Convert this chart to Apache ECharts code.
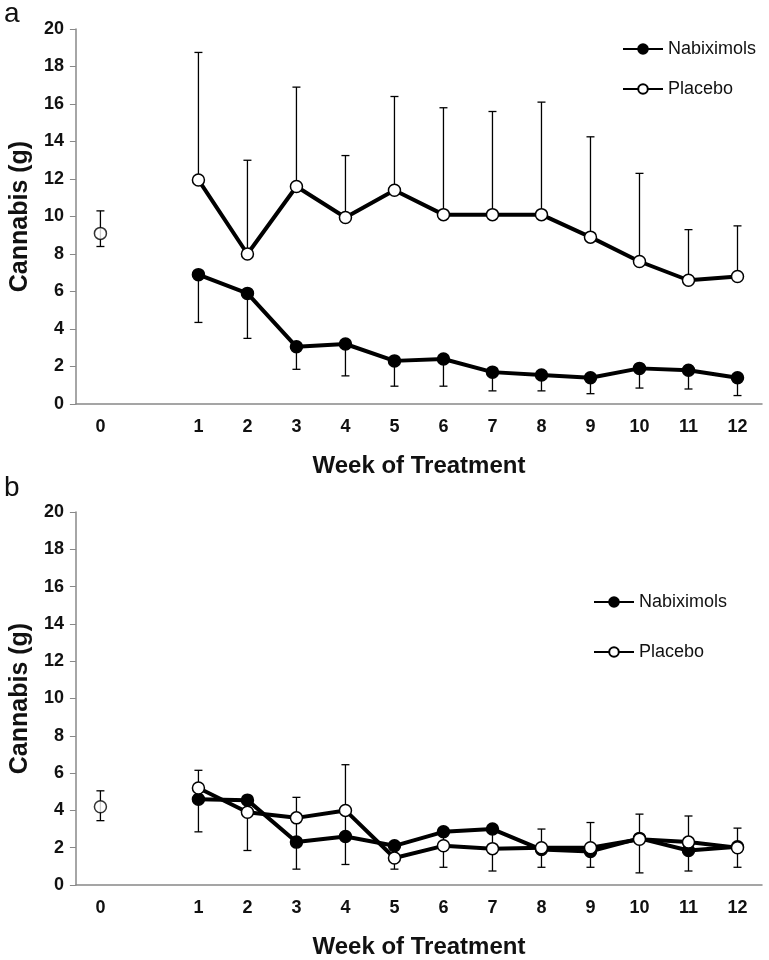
<!DOCTYPE html>
<html><head><meta charset="utf-8">
<script src="https://cdn.jsdelivr.net/npm/echarts@6/dist/echarts.min.js"></script>
<style>body{margin:0;background:#fff}#c{width:769px;height:960px}</style></head>
<body><div id="c"></div>
<script>
const categories = ['0','','1','2','3','4','5','6','7','8','9','10','11','12'];
const yTicks = [0,2,4,6,8,10,12,14,16,18,20];
// Panel a
const aBaseline = [9.1, 8.4, 10.3];
const aNab = ['-','-',6.9,5.9,3.05,3.2,2.3,2.4,1.7,1.55,1.4,1.9,1.8,1.4];
const aNabLow = ['-','-',4.35,3.5,1.85,1.5,0.95,0.95,0.7,0.7,0.55,0.85,0.8,0.45];
const aPla = ['-','-',11.95,8.0,11.6,9.95,11.4,10.1,10.1,10.1,8.9,7.6,6.6,6.8];
const aPlaHigh = ['-','-',18.75,13.0,16.9,13.25,16.4,15.8,15.6,16.1,14.25,12.3,9.3,9.5];
// Panel b
const bBaseline = [4.2, 3.45, 5.05];
const bNab = ['-','-',4.6,4.55,2.3,2.6,2.1,2.85,3.0,1.9,1.8,2.5,1.85,2.05];
const bPla = ['-','-',5.2,3.9,3.6,4.0,1.45,2.1,1.95,2.0,2.0,2.45,2.3,2.0];
const bErrLow = ['-','-',2.85,1.85,0.85,1.1,0.85,0.95,0.75,0.95,0.95,0.65,0.75,0.95];
const bErrHigh = ['-','-',6.15,4.8,4.7,6.45,2.1,2.85,3.0,3.0,3.35,3.8,3.7,3.05];

const font = '"Liberation Sans Narrow","Liberation Sans",Arial,sans-serif';
const grids = [{left:62,width:700,top:29,height:375},{left:62,width:700,top:512,height:374}];

function errData(vals, lows, highs){
  const out=[];
  for(let i=0;i<vals.length;i++){ if(lows[i]!=='-') out.push([i, lows[i], highs[i]]); }
  return out;
}
function errSeries(idx, data){
  return {type:'custom', xAxisIndex:idx, yAxisIndex:idx, z:1, silent:true, data:data,
    renderItem:function(params, api){
      const x=api.value(0);
      const p1=api.coord([x, api.value(1)]), p2=api.coord([x, api.value(2)]);
      const w=4, st={stroke:'#000', lineWidth:1.3};
      return {type:'group', children:[
        {type:'line', shape:{x1:p1[0],y1:p1[1],x2:p2[0],y2:p2[1]}, style:st},
        {type:'line', shape:{x1:p1[0]-w,y1:p1[1],x2:p1[0]+w,y2:p1[1]}, style:st},
        {type:'line', shape:{x1:p2[0]-w,y1:p2[1],x2:p2[0]+w,y2:p2[1]}, style:st}
      ]};
    }};
}
function lineSeries(idx, name, data, filled){
  return {type:'line', name:name, xAxisIndex:idx, yAxisIndex:idx, data:data, z:3,
    symbol:'circle', symbolSize:12, lineStyle:{color:'#000', width:4},
    itemStyle:{color: filled?'#000':'#fff', borderColor:'#000', borderWidth:1.5}};
}
const aNabHigh = aNab, aPlaLow = aPla;
const series = [
  errSeries(0, errData(aNab, aNabLow, aNabHigh)),
  errSeries(0, errData(aPla, aPlaLow, aPlaHigh)),
  errSeries(0, [[0, aBaseline[1], aBaseline[2]]]),
  lineSeries(0,'Nabiximols',aNab,true),
  lineSeries(0,'Placebo',aPla,false),
  {type:'scatter', xAxisIndex:0, yAxisIndex:0, z:3, symbolSize:12, data:[[0,aBaseline[0]]], itemStyle:{color:'#fff',borderColor:'#000',borderWidth:1.5}},
  errSeries(1, errData(bNab, bErrLow, bErrHigh)),
  errSeries(1, [[0, bBaseline[1], bBaseline[2]]]),
  {...lineSeries(1,'Nabiximols',bNab,true), name:'Nabiximols '},
  {...lineSeries(1,'Placebo',bPla,false), name:'Placebo '},
  {type:'scatter', xAxisIndex:1, yAxisIndex:1, z:3, symbolSize:12, data:[[0,bBaseline[0]]], itemStyle:{color:'#fff',borderColor:'#000',borderWidth:1.5}}
];
function xAxis(i){return {type:'category', gridIndex:i, data:categories, boundaryGap:true,
  axisLine:{lineStyle:{color:'#888',width:1.5}}, axisTick:{interval:0, length:6, lineStyle:{color:'#888'}},
  axisLabel:{interval:0, color:'#111', fontSize:18, fontWeight:'bold', fontFamily:font, margin:14},
  name:'Week of Treatment', nameLocation:'middle', nameGap:50,
  nameTextStyle:{fontSize:24, fontWeight:'bold', color:'#111', fontFamily:'Liberation Sans,Arial'}};}
function yAxis(i){return {type:'value', gridIndex:i, min:0, max:20, interval:2,
  axisLine:{show:true, lineStyle:{color:'#888',width:1.5}}, axisTick:{show:true,length:6,lineStyle:{color:'#888'}},
  splitLine:{show:false}, axisLabel:{color:'#111', fontSize:18, fontWeight:'bold', fontFamily:font, margin:12,
    formatter:v=>yTicks.includes(v)?String(v):''},
  name:'Cannabis (g)', nameLocation:'middle', nameGap:40,
  nameTextStyle:{fontSize:25, fontWeight:'bold', color:'#111', fontFamily:'Liberation Sans,Arial'}};}
const legendText = {fontSize:18, fontFamily:font, color:'#111'};
const chart = echarts.init(document.getElementById('c'));
chart.setOption({
  animation:false, backgroundColor:'#fff',
  grid:grids, xAxis:[xAxis(0),xAxis(1)], yAxis:[yAxis(0),yAxis(1)],
  legend:[
    {data:['Nabiximols','Placebo'], orient:'vertical', left:617, top:35, itemGap:22, itemWidth:40, itemHeight:12, textStyle:legendText},
    {data:['Nabiximols ','Placebo '], orient:'vertical', left:588, top:588, itemGap:32, itemWidth:40, itemHeight:12, textStyle:legendText}
  ],
  graphic:[
    {type:'text', left:4, top:0, style:{text:'a', fontSize:28, fill:'#111', fontFamily:'Liberation Sans,Arial'}},
    {type:'text', left:4, top:474, style:{text:'b', fontSize:28, fill:'#111', fontFamily:'Liberation Sans,Arial'}}
  ],
  series:series
});
</script></body></html>
